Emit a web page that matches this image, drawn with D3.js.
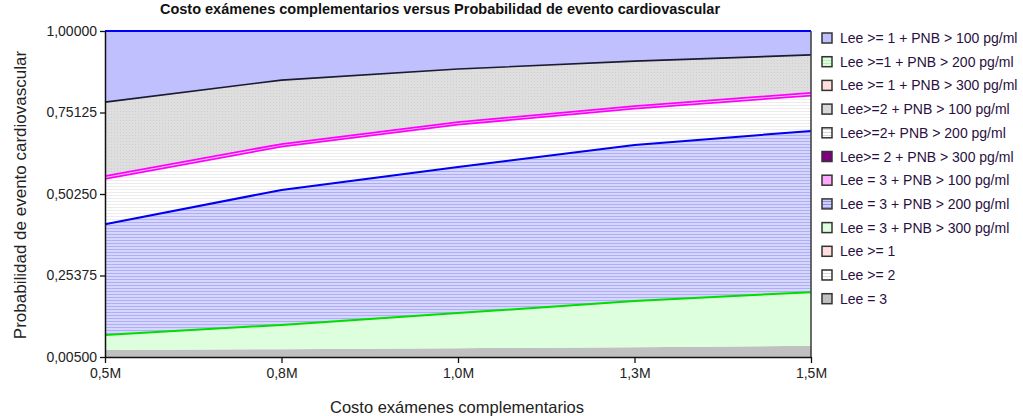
<!DOCTYPE html>
<html><head><meta charset="utf-8">
<script src="https://cdn.jsdelivr.net/npm/d3@7/dist/d3.min.js"></script>
<style>body{margin:0;background:#fff}svg{display:block;font-family:"Liberation Sans",Arial,sans-serif}</style>
</head><body><svg id="c" width="1023" height="416"></svg>
<script>
// ---- data ----
const costs = [0.5, 0.75, 1.0, 1.25, 1.5];
const xTickLabels = ["0,5M", "0,8M", "1,0M", "1,3M", "1,5M"];
const yTickValues = [0.005, 0.25375, 0.5025, 0.75125, 1.0];
const yTickLabels = ["0,00500", "0,25375", "0,50250", "0,75125", "1,00000"];
// cumulative boundaries (top of each stacked band)
const lee3 = [0.026, 0.029, 0.032, 0.035, 0.039];
const lee3Pnb300 = [0.072, 0.103, 0.139, 0.176, 0.203];
const lee3Pnb200 = [0.410, 0.515, 0.585, 0.652, 0.695];
const lee2Pnb200 = [0.549, 0.647, 0.714, 0.763, 0.803];
const lee3Pnb100 = [0.557, 0.655, 0.722, 0.771, 0.811];
const lee2Pnb100 = [0.783, 0.850, 0.884, 0.908, 0.927];
const lee1Pnb100 = [1.0, 1.0, 1.0, 1.0, 1.0];
const legendLabels = ["Lee >= 1 + PNB > 100 pg/ml", "Lee >=1 + PNB > 200 pg/ml", "Lee >= 1 + PNB > 300 pg/ml",
  "Lee>=2 + PNB > 100 pg/ml", "Lee>=2+ PNB > 200 pg/ml", "Lee>= 2 + PNB > 300 pg/ml",
  "Lee = 3 + PNB > 100 pg/ml", "Lee = 3 + PNB > 200 pg/ml", "Lee = 3 + PNB > 300 pg/ml",
  "Lee >= 1", "Lee >= 2", "Lee = 3"];

const svg = d3.select("#c");
const X0 = 105, X1 = 811, Y0 = 357, Y1 = 31;
const x = d3.scaleLinear().domain([0.5, 1.5]).range([X0, X1]);
const y = d3.scaleLinear().domain([0.005, 1]).range([Y0, Y1]);

// patterns
const defs = svg.append("defs");
function stripes(id, bg, fg, h) {
  const p = defs.append("pattern").attr("id", id).attr("patternUnits", "userSpaceOnUse").attr("width", 8).attr("height", h);
  p.append("rect").attr("width", 8).attr("height", h).attr("fill", bg);
  p.append("rect").attr("width", 8).attr("height", 1).attr("fill", fg);
}
stripes("pBlue", "#d6d6ff", "#aeaef4", 3);
stripes("pWhite", "#ffffff", "#ececec", 3);
stripes("pGreen", "#ddffdd", "#b8f0b8", 3);
stripes("pWhiteL", "#ffffff", "#d8d8d8", 3);
{
  const p = defs.append("pattern").attr("id", "pDots").attr("patternUnits", "userSpaceOnUse").attr("width", 3).attr("height", 3);
  p.append("rect").attr("width", 3).attr("height", 3).attr("fill", "#dedede");
  p.append("rect").attr("width", 1).attr("height", 1).attr("fill", "#cfcfcf");
}
{
  const p = defs.append("pattern").attr("id", "pBlueL").attr("patternUnits", "userSpaceOnUse").attr("width", 8).attr("height", 3);
  p.append("rect").attr("width", 8).attr("height", 3).attr("fill", "#d0d0ff");
  p.append("rect").attr("width", 8).attr("height", 1).attr("fill", "#9090e0");
}

// bands
const base = costs.map(() => 0.005);
const bands = [
  {lo: base, hi: lee3, fill: "#c0c0c0"},
  {lo: lee3, hi: lee3Pnb300, fill: "#ddffdd"},
  {lo: lee3Pnb300, hi: lee3Pnb200, fill: "url(#pBlue)"},
  {lo: lee3Pnb200, hi: lee2Pnb200, fill: "url(#pWhite)"},
  {lo: lee2Pnb200, hi: lee3Pnb100, fill: "#ffd6ff"},
  {lo: lee3Pnb100, hi: lee2Pnb100, fill: "url(#pDots)"},
  {lo: lee2Pnb100, hi: lee1Pnb100, fill: "#c0c0ff"}
];
const area = d3.area().x((d, i) => x(costs[i])).y0(d => y(d[0])).y1(d => y(d[1]));
bands.forEach(b => {
  svg.append("path").datum(costs.map((c, i) => [b.lo[i], b.hi[i]])).attr("d", area).attr("fill", b.fill);
});

// boundary lines
const line = d3.line().x((d, i) => x(costs[i])).y(d => y(d));
const lines = [
  {v: lee3Pnb300, c: "#00dd00", w: 2},
  {v: lee3Pnb200, c: "#0000ee", w: 2},
  {v: lee2Pnb200, c: "#ff00ff", w: 1.8},
  {v: lee3Pnb100, c: "#ff00ff", w: 1.8},
  {v: lee2Pnb100, c: "#1a1a33", w: 1.6},
  {v: lee1Pnb100, c: "#0000ff", w: 2}
];
lines.forEach(l => svg.append("path").datum(l.v).attr("d", line).attr("fill", "none")
  .attr("stroke", l.c).attr("stroke-width", l.w));

// right edge
svg.append("line").attr("x1", X1).attr("x2", X1).attr("y1", Y1).attr("y2", Y0).attr("stroke", "#3a3a3a").attr("stroke-width", 1.5);

// axes
const yAxis = svg.append("g").attr("transform", `translate(${X0},0)`)
  .call(d3.axisLeft(y).tickValues(yTickValues).tickFormat((d, i) => yTickLabels[i]).tickSize(5).tickSizeOuter(0).tickPadding(3));
const xAxis = svg.append("g").attr("transform", `translate(0,${Y0})`)
  .call(d3.axisBottom(x).tickValues(costs).tickFormat((d, i) => xTickLabels[i]).tickSize(6).tickSizeOuter(0).tickPadding(5));
[yAxis, xAxis].forEach(a => {
  a.select(".domain").attr("stroke", "#111").attr("stroke-width", 1.5);
  a.selectAll(".tick line").attr("stroke", "#111").attr("stroke-width", 1.3);
  a.selectAll("text").attr("font-size", 14).attr("fill", "#222").attr("font-family", "Liberation Sans, Arial, sans-serif");
});

// titles
svg.append("text").attr("x", 440).attr("y", 14).attr("text-anchor", "middle").attr("font-size", 14.5).attr("font-weight", "bold")
  .attr("fill", "#111").text("Costo exámenes complementarios versus Probabilidad de evento cardiovascular");
svg.append("text").attr("x", 457).attr("y", 413).attr("text-anchor", "middle").attr("font-size", 16.5).attr("fill", "#222")
  .text("Costo exámenes complementarios");
svg.append("text").attr("transform", "translate(26,195) rotate(-90)").attr("text-anchor", "middle").attr("font-size", 17).attr("fill", "#222")
  .text("Probabilidad de evento cardiovascular");

// legend
const legFills = ["#c0c0ff", "url(#pGreen)", "#ffdede", "#d8d8d8", "url(#pWhiteL)", "#800080",
  "#ffa8ff", "url(#pBlueL)", "#ddffdd", "#ffdede", "url(#pWhiteL)", "#c0c0c0"];
const leg = svg.append("g");
legendLabels.forEach((t, i) => {
  const yy = 38 + i * 23.7;
  leg.append("rect").attr("x", 822).attr("y", yy - 5).attr("width", 10).attr("height", 10)
    .attr("fill", legFills[i]).attr("stroke", "#333").attr("stroke-width", 1.5);
  leg.append("text").attr("x", 840).attr("y", yy + 5).attr("font-size", 14).attr("fill", "#2a1040").text(t);
});
</script></body></html>
